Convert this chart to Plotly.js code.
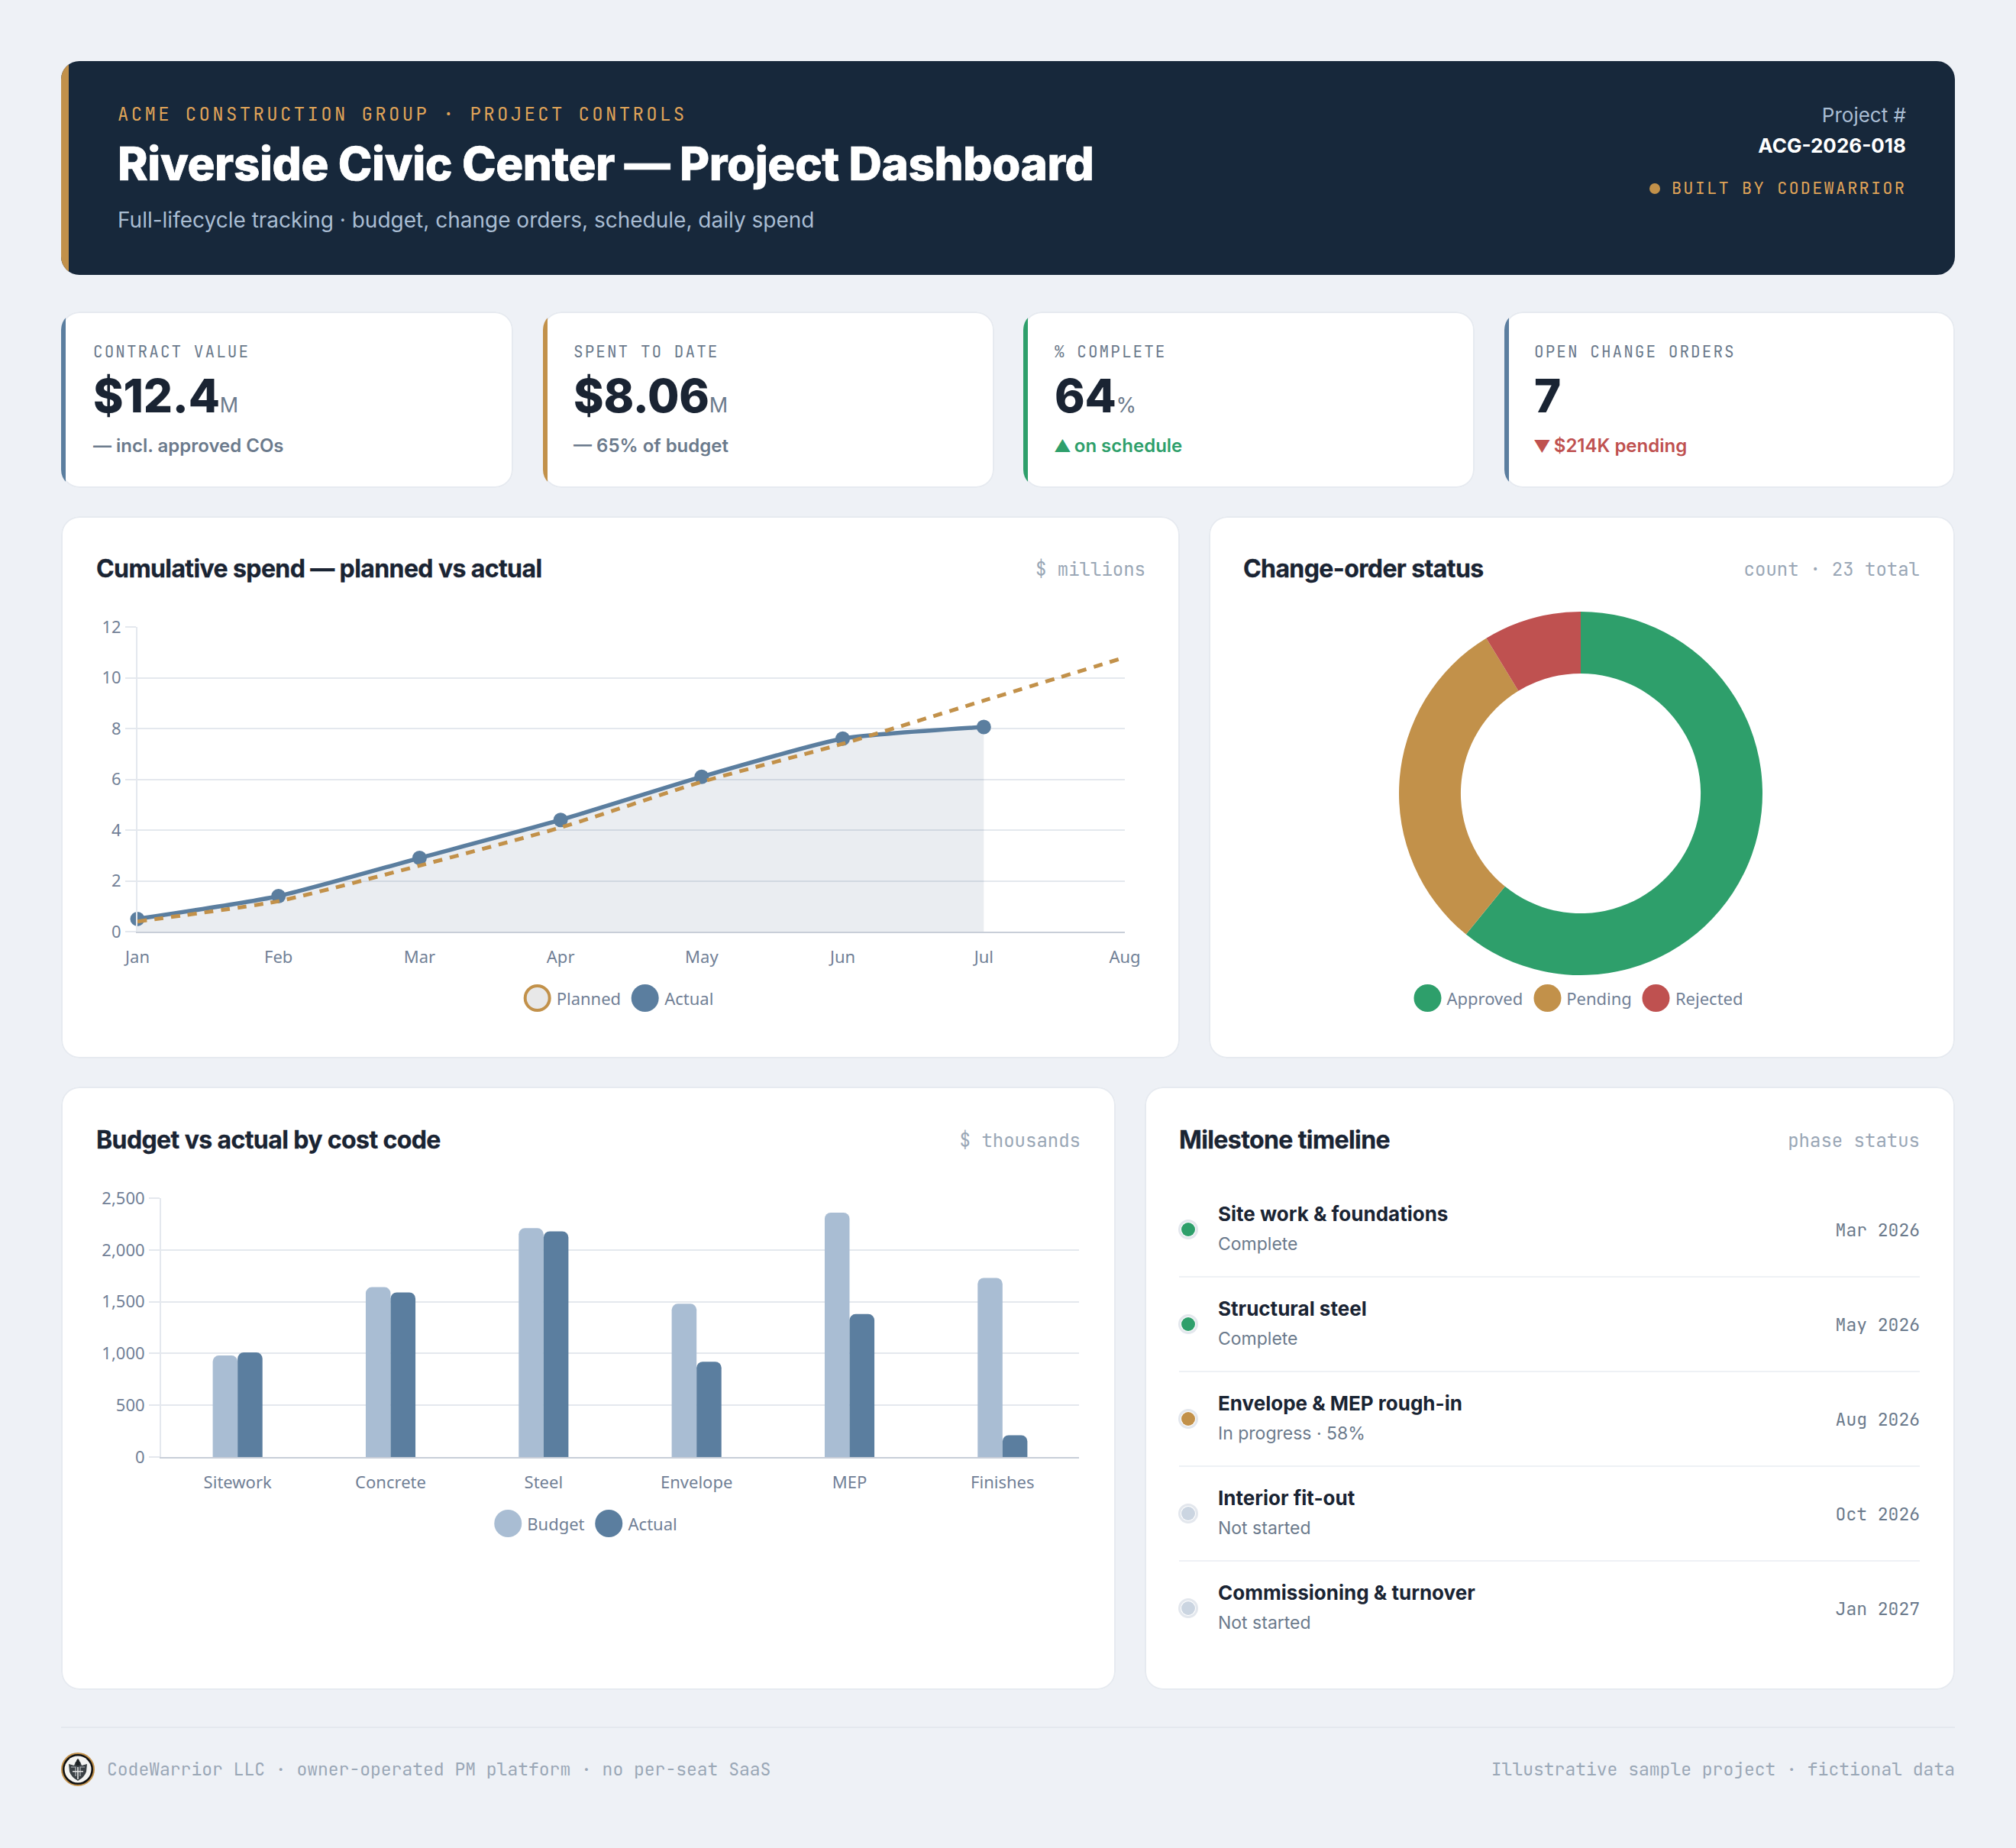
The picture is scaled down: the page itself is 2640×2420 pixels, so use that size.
<!DOCTYPE html>
<html><head><meta charset="utf-8">
<script src="https://cdn.plot.ly/plotly-3.0.1.min.js"></script>
<style>
html,body{margin:0;padding:0;background:#EEF1F6;}
#page{position:relative;width:2640px;height:2420px;overflow:hidden;background:#EEF1F6;font-family:Inter,sans-serif;color:#1A2433;}
.box{position:absolute;box-sizing:border-box;}
.card{background:#fff;box-shadow:inset 0 0 0 2px #E6EAF0;border-radius:24px;overflow:hidden;}
.t{position:absolute;white-space:nowrap;line-height:60px;height:60px;}
.mono{font-family:"JetBrains Mono","IBM Plex Mono","Noto Sans Mono","DejaVu Sans Mono",monospace;}
.plot{position:absolute;}
.lg{position:absolute;display:flex;align-items:center;font-family:"Noto Sans",sans-serif;font-size:22px;color:#718096;height:40px;}
.lg i{display:inline-block;width:36px;height:36px;border-radius:50%;box-sizing:border-box;margin:0 7px 0 0;}
.lg span{margin-right:14px;}
.lg span:last-child{margin-right:0;}
</style></head><body><div id="page"></div>
<script>
// ---- data ----
const months=['Jan','Feb','Mar','Apr','May','Jun','Jul','Aug'];
const plannedSpend=[0.4,1.2,2.6,4.1,5.9,7.4,9.1,10.8];
const actualSpend=[0.5,1.4,2.9,4.4,6.1,7.6,8.06];
const coStatus=['Approved','Pending','Rejected'];
const coCounts=[14,7,2];
const costCodes=['Sitework','Concrete','Steel','Envelope','MEP','Finishes'];
const budgetK=[980,1640,2210,1480,2360,1730];
const actualK=[1010,1590,2180,920,1380,210];
const kpiLabels=['CONTRACT VALUE','SPENT TO DATE','% COMPLETE','OPEN CHANGE ORDERS'];
const kpiValues=['$12.4','$8.06','64','7'];
const kpiUnits=['M','M','%',''];
const kpiNoteMarks=['','','▲','▼'];
const kpiNotes=['— incl. approved COs','— 65% of budget','on schedule','$214K pending'];
const milestoneNames=['Site work & foundations','Structural steel','Envelope & MEP rough-in','Interior fit-out','Commissioning & turnover'];
const milestoneStatus=['Complete','Complete','In progress · 58%','Not started','Not started'];
const milestoneDates=['Mar 2026','May 2026','Aug 2026','Oct 2026','Jan 2027'];
// ---- palette ----
const GREEN='#2E9F6B',GOLD='#C2914A',RED='#BF5150',BLUE='#5B7E9F',LIGHT='#A9BDD3',NAVY='#17283B',INK='#1A2433',GRAY='#6B7A8C',SOFT='#9AA7B6',GRID='#E4E8EE',AXIS='#C8CED8',PALE='#CBD5E1',TICK='#718096';

const page=document.getElementById('page');
function box(x,y,w,h,css,cls){const d=document.createElement('div');d.className='box '+(cls||'');d.style.cssText=`left:${x}px;top:${y}px;width:${w}px;height:${h}px;`+(css||'');page.appendChild(d);return d;}
function txt(x,cy,s,css,align,cls){const d=document.createElement('div');d.className='t '+(cls||'');d.textContent=s;let st=`top:${cy-30}px;`;if(align==='r')st+=`right:${2640-x}px;`;else st+=`left:${x}px;`;d.style.cssText=st+(css||'');page.appendChild(d);return d;}
function accent(parent,w,color){const b=document.createElement('div');b.style.cssText=`position:absolute;left:0;top:0;bottom:0;width:${w}px;background:${color};`;parent.appendChild(b);}

// header
accent(box(80,80,2480,280,`background:${NAVY};border-radius:24px;overflow:hidden;`),10,GOLD);
txt(154,150,'ACME CONSTRUCTION GROUP · PROJECT CONTROLS',`font-size:24px;letter-spacing:3.35px;color:#E0A458;`,'l','mono');
txt(154,214,'Riverside Civic Center — Project Dashboard',`font-size:60px;font-weight:800;letter-spacing:-0.38px;color:#fff;-webkit-text-stroke:0.7px #fff;`);
txt(154,288,'Full-lifecycle tracking · budget, change orders, schedule, daily spend',`font-size:28px;color:#A9BDD3;`);
txt(2496,151,'Project #',`font-size:26px;color:#A9BDD3;`,'r');
txt(2496,191,'ACG-2026-018',`font-size:26px;font-weight:700;color:#fff;`,'r');
txt(2496,247,'BUILT BY CODEWARRIOR',`font-size:22px;letter-spacing:2.15px;color:#E0A458;`,'r','mono');
box(2160,240,14,14,`background:${GOLD};border-radius:50%;`);

// KPI cards
const kpiX=[80,711,1340,1970],kpiW=[592,591,591,590],kpiTextX=[122,751,1381,2009],kpiAccent=[BLUE,GOLD,GREEN,BLUE];
const noteColors=[GRAY,GRAY,GREEN,RED];
kpiLabels.forEach((lab,i)=>{
  accent(box(kpiX[i],408,kpiW[i],231,'','card'),6,kpiAccent[i]);
  const x=kpiTextX[i];
  txt(x,461,lab,`font-size:21px;letter-spacing:2.05px;color:${GRAY};`,'l','mono');
  const v=txt(x,518,kpiValues[i],`font-size:60px;font-weight:800;letter-spacing:-0.2px;color:${INK};`);
  if(kpiUnits[i]){const u=document.createElement('span');u.textContent=kpiUnits[i];u.style.cssText=`font-size:27px;font-weight:400;color:${GRAY};letter-spacing:0;`;v.appendChild(u);}
  const n=txt(x,584,'',`font-size:24px;font-weight:600;color:${noteColors[i]};`);
  if(kpiNoteMarks[i]){const m=document.createElement('span');m.textContent=kpiNoteMarks[i];m.style.cssText='font-size:22px;margin-right:4px;margin-left:-1px;';n.appendChild(m);}
  n.appendChild(document.createTextNode(kpiNotes[i]));
});

// panels
box(80,676,1465,710,'','card');
box(1583,676,977,710,'','card');
box(80,1423,1381,790,'','card');
box(1499,1423,1061,790,'','card');
const titleCss=`font-size:32px;font-weight:700;letter-spacing:-0.6px;color:${INK};-webkit-text-stroke:0.3px ${INK};`;
const subCss=`font-size:24px;color:${SOFT};`;
txt(126,745,'Cumulative spend — planned vs actual',titleCss);
txt(1500,746,'$ millions',subCss,'r','mono');
txt(1628,745,'Change-order status',titleCss);
txt(2514,746,'count · 23 total',subCss,'r','mono');
txt(126,1493,'Budget vs actual by cost code',titleCss);
txt(1415,1494,'$ thousands',subCss,'r','mono');
txt(1544,1493,'Milestone timeline',titleCss);
txt(2514,1494,'phase status',subCss,'r','mono');

// milestones
const msColors=[GREEN,GREEN,GOLD,PALE,PALE];
milestoneNames.forEach((n,i)=>{
  const dy=124*i;
  box(1543,1597+dy,26,26,`background:#fff;border:3px solid #E3E7ED;border-radius:50%;`);
  box(1547,1601+dy,18,18,`background:${msColors[i]};border-radius:50%;`);
  txt(1595,1590+dy,n,`font-size:26px;font-weight:700;color:${INK};`);
  txt(1595,1629+dy,milestoneStatus[i],`font-size:23px;color:${GRAY};`);
  txt(2514,1611+dy,milestoneDates[i],`font-size:23px;color:${GRAY};`,'r','mono');
  if(i<4)box(1544,1671+dy,970,2,'background:#EEF1F5;');
});

// footer
box(80,2261,2480,2,'background:#E4E8EE;');
const logo=box(80,2295,44,44,'');
logo.innerHTML=`<svg width="44" height="44" viewBox="0 0 44 44"><circle cx="22" cy="22" r="21" fill="#111" stroke="${GOLD}" stroke-width="2"/><circle cx="22" cy="22" r="17.5" fill="#F4F4F2"/><path d="M10 15 L17 17 L19 12 L25 12 L27 17 L34 15 L33 25 Q31 32 22 37 Q13 32 11 25 Z" fill="#3A4044"/><path d="M13 19 h6 v12 M31 19 h-6 v12" fill="none" stroke="#B8BCBE" stroke-width="1.2"/><path d="M21.2 19 h1.6 v16 h-1.6z M15 24 h14 v1.5 h-14z" fill="#E4E4E4"/><path d="M19.5 17 Q19 10 22 8 Q25 10 24.5 17 Z" fill="#1E2224"/></svg>`;
txt(140,2317,'CodeWarrior LLC · owner-operated PM platform · no per-seat SaaS',`font-size:23px;color:${SOFT};`,'l','mono');
txt(2560,2317,'Illustrative sample project · fictional data',`font-size:23px;color:${SOFT};`,'r','mono');

// plots
function plotDiv(x,y,w,h){const d=document.createElement('div');d.className='plot';d.style.cssText=`left:${x}px;top:${y}px;width:${w}px;height:${h}px;`;page.appendChild(d);return d;}
const tickFont={family:'"Noto Sans",sans-serif',size:22,color:TICK};
const cfg={staticPlot:true,displayModeBar:false};
const yaxisBase={showgrid:true,gridcolor:GRID,gridwidth:2,zeroline:false,showline:true,linecolor:GRID,linewidth:2,ticks:'outside',ticklen:14,tickwidth:2,tickcolor:GRID,tickfont:tickFont,ticklabelstandoff:1};
const xaxisBase={showgrid:false,zeroline:false,showline:true,linecolor:AXIS,linewidth:2,ticks:'',tickfont:tickFont,ticklabelstandoff:13,type:'category'};

Plotly.newPlot(plotDiv(80,677,1465,708),[
 {type:'scatter',mode:'lines+markers',name:'Actual',x:months.slice(0,actualSpend.length),y:actualSpend,
  line:{color:BLUE,width:5.5,shape:'spline',smoothing:0.55},marker:{color:BLUE,size:19},fill:'tozeroy',fillcolor:'rgba(50,80,120,0.1)',cliponaxis:false},
 {type:'scatter',mode:'lines',name:'Planned',x:months,y:plannedSpend,
  line:{color:GOLD,width:5,dash:'12px,10px',shape:'spline',smoothing:0.55},cliponaxis:false}
],{width:1465,height:708,margin:{l:100,r:72,t:144,b:165},paper_bgcolor:'rgba(0,0,0,0)',plot_bgcolor:'rgba(0,0,0,0)',showlegend:false,
  xaxis:Object.assign({},xaxisBase,{range:[0,7],categoryorder:'array',categoryarray:months}),
  yaxis:Object.assign({},yaxisBase,{range:[0,12],dtick:2})},cfg);

Plotly.newPlot(plotDiv(1583,678,977,708),[
 {type:'pie',labels:coStatus,values:coCounts,hole:0.66,sort:false,direction:'clockwise',rotation:0,textinfo:'none',
  marker:{colors:[GREEN,GOLD,RED],line:{width:0}},domain:{x:[0,1],y:[0,1]}}
],{width:977,height:708,margin:{l:249,r:252,t:123,b:109},paper_bgcolor:'rgba(0,0,0,0)',showlegend:false},cfg);

Plotly.newPlot(plotDiv(80,1424,1381,788),[
 {type:'bar',name:'Budget',x:costCodes,y:budgetK,marker:{color:LIGHT,cornerradius:8}},
 {type:'bar',name:'Actual',x:costCodes,y:actualK,marker:{color:BLUE,cornerradius:8}}
],{width:1381,height:788,margin:{l:131,r:48,t:145,b:304},paper_bgcolor:'rgba(0,0,0,0)',plot_bgcolor:'rgba(0,0,0,0)',showlegend:false,
  barmode:'group',bargap:0.675,bargroupgap:0,
  xaxis:Object.assign({},xaxisBase),
  yaxis:Object.assign({},yaxisBase,{range:[0,2500],dtick:500,tickformat:','})},cfg);

// legends
function legend(cx,cy,items){const d=document.createElement('div');d.className='lg';d.style.cssText=`left:${cx}px;top:${cy-20}px;transform:translateX(-50%);`;
 items.forEach(([name,fill,stroke])=>{const i=document.createElement('i');i.style.background=fill;if(stroke)i.style.border=`4px solid ${stroke}`;d.appendChild(i);const s=document.createElement('span');s.textContent=name;d.appendChild(s);});page.appendChild(d);}
legend(810,1307,[['Planned','#E8E8E8',GOLD],['Actual',BLUE]]);
legend(2067,1307,[['Approved',GREEN],['Pending',GOLD],['Rejected',RED]]);
legend(767,1995,[['Budget',LIGHT],['Actual',BLUE]]);
</script></body></html>
